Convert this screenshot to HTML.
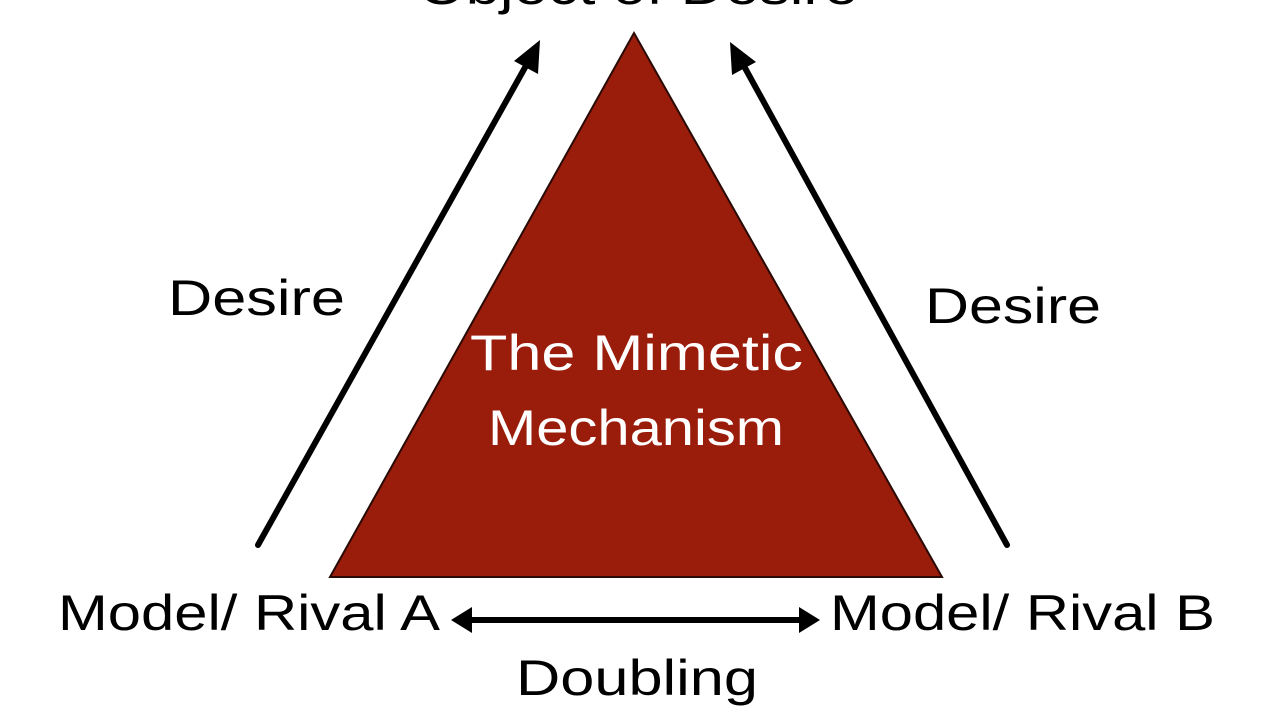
<!DOCTYPE html>
<html><head><style>html,body{margin:0;padding:0;background:#fff;width:1280px;height:716px;overflow:hidden}</style></head>
<body>
<svg width="1280" height="716" viewBox="0 0 1280 716" xmlns="http://www.w3.org/2000/svg" font-family="Liberation Sans, sans-serif" font-size="50">
<polygon points="634,33 330,577 942,577" fill="#9a1c0b" stroke="#2a0a05" stroke-width="2"/>
<g stroke="#000" stroke-width="6" fill="none" stroke-linecap="round">
<line x1="258" y1="545" x2="532" y2="55"/>
<line x1="1007" y1="545" x2="739" y2="57"/>
<line x1="465" y1="620" x2="806" y2="620"/>
</g>
<g fill="#000">
<polygon points="540,40 538,74 514,61"/>
<polygon points="730,42 756,62 732,75"/>
<polygon points="451,620 472,607 472,633"/>
<polygon points="820,620 799,607 799,633"/>
<text x="418" y="4" textLength="440" lengthAdjust="spacingAndGlyphs">Object of Desire</text>
<text x="168" y="315" textLength="177" lengthAdjust="spacingAndGlyphs">Desire</text>
<text x="925" y="323" textLength="176" lengthAdjust="spacingAndGlyphs">Desire</text>
<text x="58" y="630" textLength="382" lengthAdjust="spacingAndGlyphs">Model/ Rival A</text>
<text x="830" y="630" textLength="385" lengthAdjust="spacingAndGlyphs">Model/ Rival B</text>
<text x="516" y="695" textLength="242" lengthAdjust="spacingAndGlyphs">Doubling</text>
</g>
<g fill="#fff">
<text x="470" y="370" textLength="333" lengthAdjust="spacingAndGlyphs">The Mimetic</text>
<text x="488" y="445" textLength="296" lengthAdjust="spacingAndGlyphs">Mechanism</text>
</g>
</svg>
</body></html>
